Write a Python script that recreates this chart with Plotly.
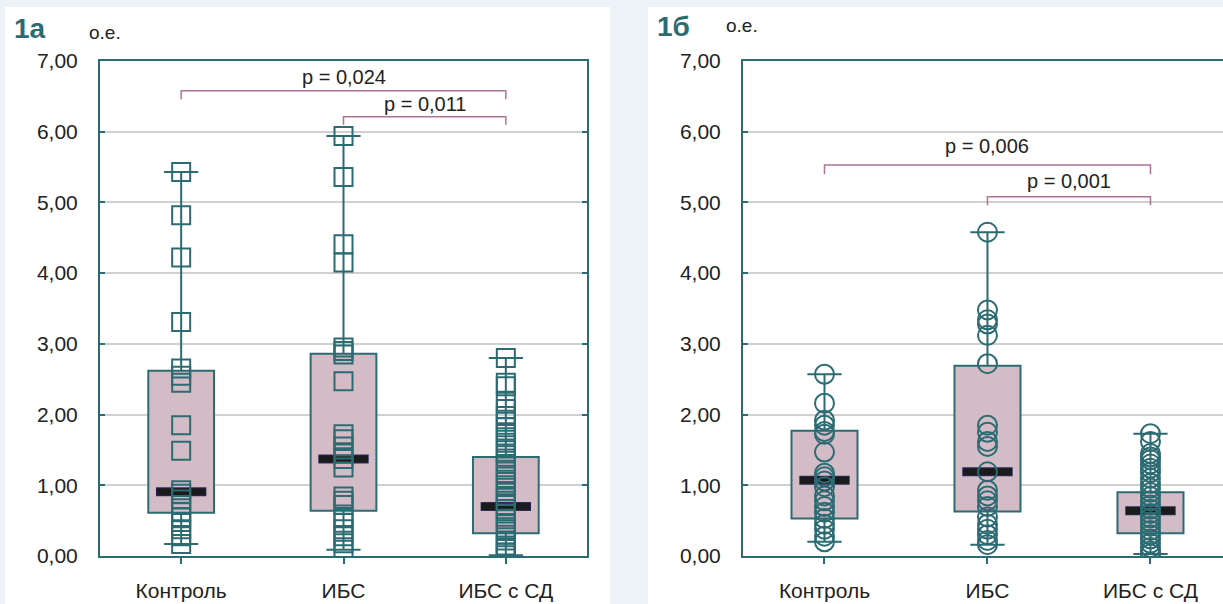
import plotly.graph_objects as go

# ---------------- data ----------------
categories = ["Контроль", "ИБС", "ИБС с СД"]
y_tick_vals = [0, 1, 2, 3, 4, 5, 6, 7]
y_tick_text = ["0,00", "1,00", "2,00", "3,00", "4,00", "5,00", "6,00", "7,00"]

# panel 1а: box statistics per group
a_q1 = [0.61, 0.64, 0.32]
a_median = [0.91, 1.37, 0.70]
a_q3 = [2.62, 2.86, 1.40]
a_min = [0.17, 0.09, 0.01]
a_max = [5.43, 5.94, 2.80]

# panel 1а: individual observations
a_control = [5.43, 4.82, 4.22, 3.31, 2.65, 2.55, 2.45, 1.85, 1.49, 0.93, 0.88,
             0.80, 0.72, 0.62, 0.55, 0.48, 0.38, 0.28, 0.17]
a_ibs = [5.94, 5.36, 4.41, 4.15, 2.95, 2.90, 2.85, 2.47, 1.72, 1.65, 1.55, 1.45,
         1.37, 1.25, 0.84, 0.78, 0.72, 0.55, 0.47, 0.38, 0.28, 0.18, 0.09]
a_ibs_dm = [2.80, 2.45, 2.40, 2.18, 2.08, 1.98, 1.90, 1.82, 1.75, 1.68, 1.60,
            1.52, 1.45, 1.38, 1.30, 1.22, 1.15, 1.08, 1.00, 0.92, 0.85, 0.78,
            0.72, 0.66, 0.60, 0.52, 0.45, 0.38, 0.30, 0.22, 0.15, 0.10, 0.05, 0.01]

# panel 1б: box statistics per group
b_q1 = [0.53, 0.63, 0.32]
b_median = [1.07, 1.19, 0.64]
b_q3 = [1.77, 2.69, 0.90]
b_min = [0.20, 0.16, 0.03]
b_max = [2.57, 4.58, 1.73]

# panel 1б: individual observations
b_control = [2.57, 2.16, 1.92, 1.85, 1.76, 1.72, 1.47, 1.17, 1.12, 1.06, 0.98,
             0.85, 0.78, 0.70, 0.62, 0.53, 0.45, 0.38, 0.28, 0.20]
b_ibs = [4.58, 3.48, 3.34, 3.28, 3.12, 2.72, 1.85, 1.75, 1.62, 1.55, 1.19, 0.93,
         0.85, 0.78, 0.70, 0.55, 0.45, 0.38, 0.30, 0.22, 0.16]
b_ibs_dm = [1.73, 1.62, 1.45, 1.40, 1.36, 1.30, 1.24, 1.18, 1.10, 1.03, 0.96,
            0.90, 0.84, 0.78, 0.72, 0.66, 0.60, 0.54, 0.48, 0.42, 0.36, 0.30,
            0.24, 0.18, 0.12, 0.07, 0.03]

# significance brackets: (group from, group to, bracket level, leg end, label level, text)
a_brackets = [(0, 2, 6.58, 6.46, 6.78, "p = 0,024"),
              (1, 2, 6.21, 6.10, 6.39, "p = 0,011")]
b_brackets = [(0, 2, 5.53, 5.40, 5.80, "p = 0,006"),
              (1, 2, 5.08, 4.96, 5.30, "p = 0,001")]

# ---------------- style ----------------
TEAL = "#2d6b73"
BOX_FILL = "#d4bcc7"
BRACKET = "#ad7399"
GRID = "#d0d0d0"
TEXT = "#222222"
FONT = "Liberation Sans, Arial, sans-serif"
BG = "#edf2f6"

W, H = 1223, 604
px_top, px_bottom = 61, 556
y_dom = [(H - px_bottom) / H, (H - px_top) / H]

fig = go.Figure()


def add_panel(xa, ya, q1, med, q3, lo, hi, groups, symbol, msize, brackets):
    # boxes with whiskers
    fig.add_trace(go.Box(
        x=categories, q1=q1, median=med, q3=q3, lowerfence=lo, upperfence=hi,
        width=0.405, whiskerwidth=0.52, fillcolor=BOX_FILL,
        line=dict(color=TEAL, width=2), boxpoints=False,
        xaxis=xa, yaxis=ya, showlegend=False, hoverinfo="skip"))
    # median: hide the box's own thin median line, then draw a short thick bar
    # (line-ew length is 1.4 x marker size)
    fig.add_trace(go.Scatter(
        x=categories, y=med, mode="markers", xaxis=xa, yaxis=ya,
        marker=dict(symbol="line-ew", size=45.5, line=dict(color=BOX_FILL, width=4)),
        showlegend=False, hoverinfo="skip"))
    fig.add_trace(go.Scatter(
        x=categories, y=med, mode="markers", xaxis=xa, yaxis=ya,
        marker=dict(symbol="line-ew", size=36, line=dict(color="#2a2a66", width=9)),
        showlegend=False, hoverinfo="skip"))
    fig.add_trace(go.Scatter(
        x=categories, y=med, mode="markers", xaxis=xa, yaxis=ya,
        marker=dict(symbol="line-ew", size=35, line=dict(color="#1b1b1b", width=7)),
        showlegend=False, hoverinfo="skip"))
    # observations
    for cat, vals in zip(categories, groups):
        fig.add_trace(go.Scatter(
            x=[cat] * len(vals), y=vals, mode="markers", xaxis=xa, yaxis=ya,
            marker=dict(symbol=symbol, size=msize, color=TEAL,
                        line=dict(color=TEAL, width=2)),
            showlegend=False, hoverinfo="skip"))
    # significance brackets
    for i, j, level, leg, lab, txt in brackets:
        fig.add_trace(go.Scatter(
            x=[categories[i], categories[i], categories[j], categories[j]],
            y=[leg, level, level, leg], mode="lines", xaxis=xa, yaxis=ya,
            line=dict(color=BRACKET, width=1.5),
            showlegend=False, hoverinfo="skip"))
        fig.add_annotation(x=(i + j) / 2, y=lab, xref=xa, yref=ya, text=txt,
                           showarrow=False, font=dict(size=20, color=TEXT, family=FONT))


add_panel("x", "y", a_q1, a_median, a_q3, a_min, a_max,
          [a_control, a_ibs, a_ibs_dm], "square-open", 18, a_brackets)
add_panel("x2", "y2", b_q1, b_median, b_q3, b_min, b_max,
          [b_control, b_ibs, b_ibs_dm], "circle-open", 19, b_brackets)

x_common = dict(type="category", categoryorder="array", categoryarray=categories,
                showline=True, linecolor=TEAL, linewidth=2, mirror=True,
                ticks="outside", ticklen=6, tickwidth=2, tickcolor=TEAL,
                showgrid=False, zeroline=False, ticklabelstandoff=9, automargin=False,
                tickfont=dict(size=21, color=TEXT, family=FONT))
y_common = dict(range=[0, 7], tickvals=y_tick_vals, ticktext=y_tick_text,
                showline=True, linecolor=TEAL, linewidth=2,
                ticks="inside", ticklen=5, tickwidth=2, tickcolor=TEAL,
                showgrid=True, gridcolor=GRID, gridwidth=1.5, zeroline=False,
                ticklabelstandoff=16, domain=y_dom, automargin=False,
                tickfont=dict(size=21, color=TEXT, family=FONT))
top_common = dict(side="top", showline=False, showgrid=False, zeroline=False,
                  showticklabels=False, ticks="inside", ticklen=5, tickwidth=2,
                  tickcolor=TEAL, tickvals=list(range(len(categories))), automargin=False)

fig.update_layout(
    width=W, height=H, margin=dict(l=0, r=0, t=0, b=0, autoexpand=False),
    paper_bgcolor=BG, plot_bgcolor="white",
    xaxis=dict(domain=[100 / W, 587 / W], anchor="y", range=[-0.5, 2.5], **x_common),
    yaxis=dict(anchor="x", mirror="ticks", **y_common),
    xaxis2=dict(domain=[743 / W, 1.0], anchor="y2", range=[-0.5, 2.445], **x_common),
    yaxis2=dict(anchor="x2", mirror=False, **y_common),
    xaxis3=dict(overlaying="x", anchor="y", range=[-0.5, 2.5], **top_common),
    xaxis4=dict(overlaying="x2", anchor="y2", range=[-0.5, 2.445], **top_common),
    shapes=[
        dict(type="rect", xref="paper", yref="paper", layer="below",
             x0=5 / W, x1=610 / W, y0=0, y1=(H - 7) / H,
             fillcolor="white", line=dict(width=0)),
        dict(type="rect", xref="paper", yref="paper", layer="below",
             x0=648 / W, x1=1.0, y0=0, y1=(H - 7) / H,
             fillcolor="white", line=dict(width=0)),
    ],
)

# panel captions and unit labels
for x, y, txt in [(12, 28, "1а"), (655, 27, "1б")]:
    fig.add_annotation(x=x / W, y=1 - y / H, xref="paper", yref="paper", text=f"<b>{txt}</b>",
                       xanchor="left", yanchor="middle", showarrow=False,
                       font=dict(size=28, color=TEAL, family=FONT))
for x, y in [(87, 32), (724, 25)]:
    fig.add_annotation(x=x / W, y=1 - y / H, xref="paper", yref="paper", text="о.е.",
                       xanchor="left", yanchor="middle", showarrow=False,
                       font=dict(size=19, color=TEXT, family=FONT))

fig.write_html("out.html")
